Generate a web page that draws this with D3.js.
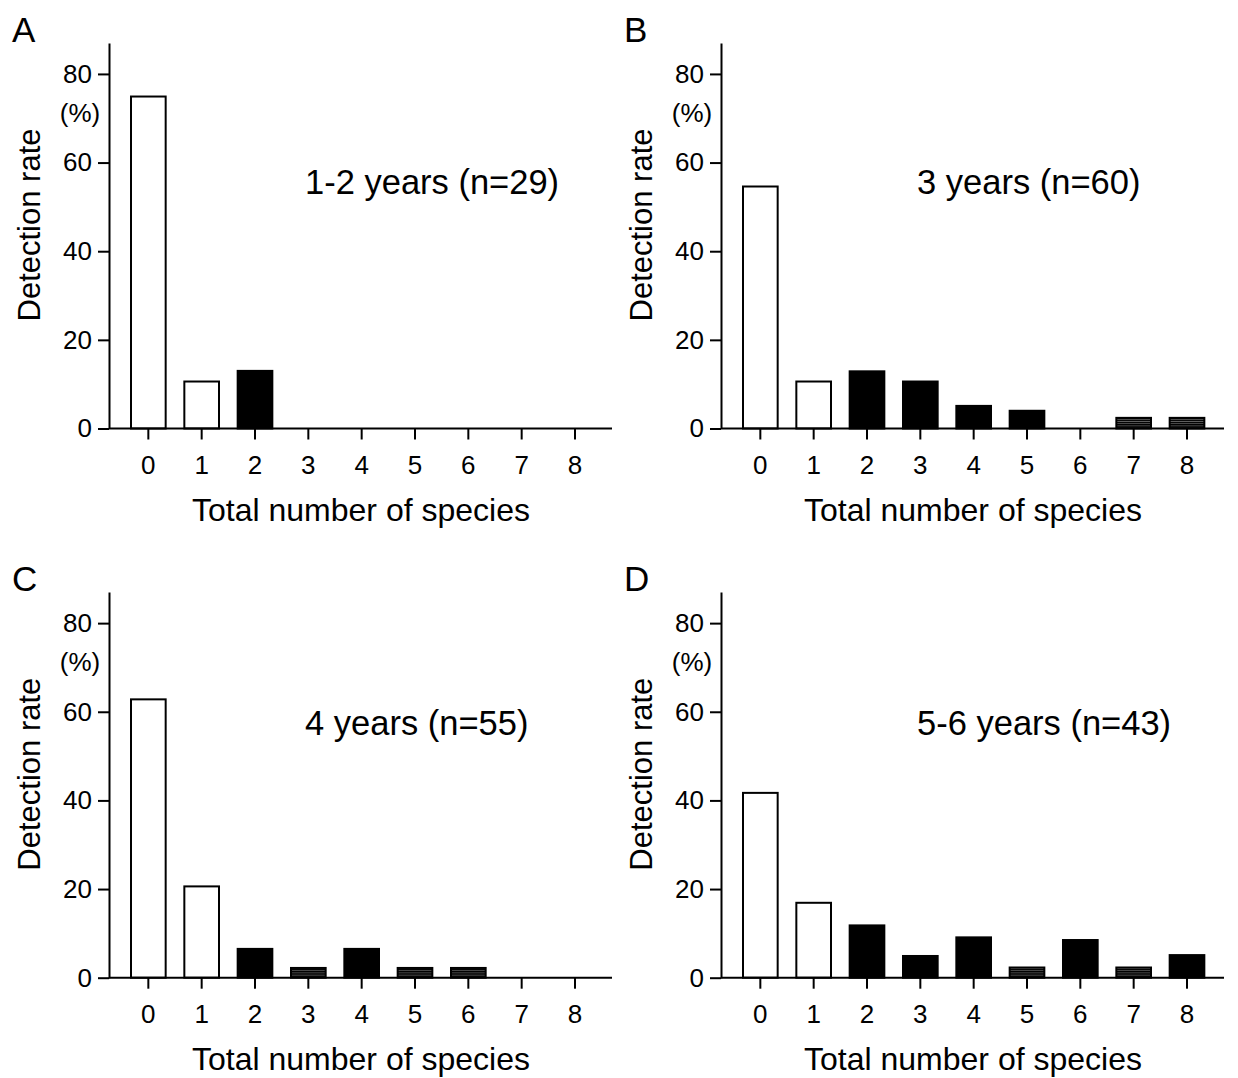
<!DOCTYPE html>
<html>
  <head>
    <meta charset="utf-8">
    <title>Detection rate by total number of species</title>
    <script src="https://d3js.org/d3.v7.min.js"></script>
    <style>
      body { margin: 0; background: #fff; }
      text { font-family: "Liberation Sans", Arial, Helvetica, sans-serif; fill: #000; }
    </style>
  </head>
  <body>
    <script>
      // Data (detection rate, %)
      var categories = ["0", "1", "2", "3", "4", "5", "6", "7", "8"];
      var yTicks = [0, 20, 40, 60, 80];
      var panelLetters = ["A", "B", "C", "D"];
      var groupLabels = ["1-2 years (n=29)", "3 years (n=60)", "4 years (n=55)", "5-6 years (n=43)"];
      var valuesA = [74.9, 10.6, 13.0, 0, 0, 0, 0, 0, 0];
      var valuesB = [54.6, 10.6, 12.9, 10.6, 5.1, 4.0, 0, 2.4, 2.4];
      var valuesC = [62.8, 20.6, 6.5, 2.2, 6.5, 2.2, 2.2, 0, 0];
      var valuesD = [41.7, 16.9, 11.8, 4.9, 9.1, 2.3, 8.5, 2.3, 5.1];

      // Panel placement (origin = where the axes meet)
      var panels = [
        { ox: 109, oy: 428.5, labelY: -235, values: valuesA },
        { ox: 721, oy: 428.5, labelY: -235, values: valuesB },
        { ox: 109, oy: 977.7, labelY: -243, values: valuesC },
        { ox: 721, oy: 977.7, labelY: -243, values: valuesD }
      ];

      var svg = d3.select("body")
                  .append("svg")
                  .attr("width", 1238)
                  .attr("height", 1078);

      // thin bars in the original come out with faint horizontal lines
      var pat = svg.append("defs").append("pattern")
                   .attr("id", "stripe")
                   .attr("patternUnits", "userSpaceOnUse")
                   .attr("width", 8)
                   .attr("height", 2.2);
      pat.append("rect").attr("width", 8).attr("height", 2.2).attr("fill", "#000");
      pat.append("rect").attr("y", 1.4).attr("width", 8).attr("height", 0.6).attr("fill", "#888");

      var y = d3.scaleLinear().domain([0, 87]).range([0, -385.6]);
      var x = d3.scaleBand()
                .domain(categories)
                .range([12.67, 492.67])
                .paddingInner(0.35)
                .paddingOuter(0.175);

      panels.forEach(function(p, k) {
        var g = svg.append("g")
                   .attr("transform", "translate(" + p.ox + "," + p.oy + ")");

        // bars (0 and 1 species open, 2+ filled)
        g.selectAll(".bar")
         .data(p.values.map(function(v, i) { return { cat: categories[i], i: i, v: v }; })
                       .filter(function(d) { return d.v > 0; }))
         .enter()
         .append("rect")
         .attr("class", "bar")
         .attr("x", function(d) { return x(d.cat); })
         .attr("width", x.bandwidth())
         .attr("y", function(d) { return y(d.v); })
         .attr("height", function(d) { return -y(d.v); })
         .attr("fill", function(d) { return d.i < 2 ? "#fff" : (d.v < 3 ? "url(#stripe)" : "#000"); })
         .attr("stroke", "#000")
         .attr("stroke-width", 2);

        // y axis
        var ya = g.append("g")
                  .call(d3.axisLeft(y).tickValues(yTicks).tickSize(11).tickPadding(6).tickSizeOuter(0));
        ya.attr("font-size", 26).attr("font-family", null);
        ya.selectAll("line, path").attr("stroke-width", 2);

        // x axis
        var xa = g.append("g")
                  .call(d3.axisBottom(x).tickSize(11).tickPadding(16).tickSizeOuter(0));
        xa.attr("font-size", 26).attr("font-family", null);
        xa.select(".domain").remove();
        xa.selectAll("line").attr("stroke-width", 2);
        g.append("line")
         .attr("x1", 0).attr("x2", 503)
         .attr("y1", 0).attr("y2", 0)
         .attr("stroke", "#000")
         .attr("stroke-width", 2);

        // labels
        g.append("text")
         .attr("transform", "translate(-69,-203.5) rotate(-90)")
         .attr("text-anchor", "middle")
         .style("font-size", "31px")
         .text("Detection rate");

        g.append("text")
         .attr("x", -29).attr("y", -307)
         .attr("text-anchor", "middle")
         .style("font-size", "26px")
         .text("(%)");

        g.append("text")
         .attr("x", 252).attr("y", 92)
         .attr("text-anchor", "middle")
         .style("font-size", "32px")
         .text("Total number of species");

        g.append("text")
         .attr("x", 196).attr("y", p.labelY)
         .style("font-size", "34.5px")
         .text(groupLabels[k]);

        g.append("text")
         .attr("x", -97).attr("y", -386.5)
         .style("font-size", "35px")
         .text(panelLetters[k]);
      });
    </script>
  </body>
</html>
